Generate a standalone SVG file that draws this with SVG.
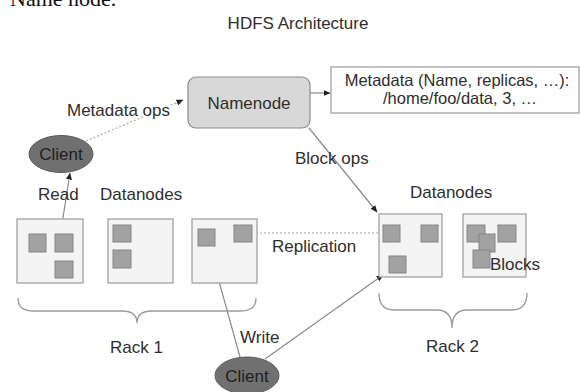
<svg xmlns="http://www.w3.org/2000/svg" width="580" height="392" viewBox="0 0 580 392">
<style>
.t{font-family:"Liberation Sans",Arial,sans-serif;font-size:17px;fill:#2e2e2e}
.dn{fill:#f4f4f4;stroke:#9a9a9a;stroke-width:1.2}
.blk{fill:#a2a2a2;stroke:#858585;stroke-width:1}
.ln{fill:none;stroke:#8a8a8a;stroke-width:1.2}
.dot{fill:none;stroke:#aaaaaa;stroke-width:1.2;stroke-dasharray:2 2}
.brace{fill:none;stroke:#9a9a9a;stroke-width:1.3}
.cl{fill:#707070;stroke:#5a5a5a;stroke-width:1}
</style>
<defs>
<marker id="ah" markerWidth="7" markerHeight="6" refX="6.5" refY="3" orient="auto" markerUnits="userSpaceOnUse">
<path d="M0,0 L7,3 L0,6 Z" fill="#222"/>
</marker>
</defs>
<rect width="580" height="392" fill="#fff"/>
<text x="10" y="6" style="font-family:'Liberation Serif','Times New Roman',serif;font-size:22px;fill:#111">Name node.</text>
<text class="t" x="298" y="29" text-anchor="middle">HDFS Architecture</text>

<g id="connectors">
<line class="dot" x1="86" y1="141" x2="183" y2="100" marker-end="url(#ah)"/>
<line class="ln" x1="310" y1="93" x2="330" y2="93" marker-end="url(#ah)"/>
<line class="ln" x1="309" y1="128" x2="377" y2="212" marker-end="url(#ah)"/>
<line class="ln" x1="62" y1="224" x2="70" y2="173" marker-end="url(#ah)"/>
<line class="ln" x1="240" y1="357" x2="210" y2="249" marker-end="url(#ah)"/>
<line class="ln" x1="265" y1="359" x2="383" y2="275" marker-end="url(#ah)"/>
<line class="dot" x1="252" y1="233" x2="383" y2="233"/>
</g>

<text class="t" x="67" y="116" stroke="#fff" stroke-width="4" paint-order="stroke">Metadata ops</text>
<text class="t" x="295" y="164">Block ops</text>
<text class="t" x="38" y="200">Read</text>
<text class="t" x="100" y="200">Datanodes</text>
<text class="t" x="410" y="198">Datanodes</text>
<text class="t" x="272" y="252">Replication</text>
<text class="t" x="240" y="343">Write</text>
<text class="t" x="110" y="353">Rack 1</text>
<text class="t" x="426" y="352">Rack 2</text>

<g id="namenode">
<rect x="188" y="77" width="122" height="51" rx="8" fill="#d8d8d8" stroke="#8a8a8a" stroke-width="1.2"/>
<text class="t" x="249" y="109" text-anchor="middle">Namenode</text>
</g>

<g id="metadata">
<rect x="331" y="67" width="248" height="46" fill="#fff" stroke="#9a9a9a" stroke-width="1.2"/>
<text class="t" x="457" y="86" text-anchor="middle" style="font-size:16.5px">Metadata (Name, replicas, …):</text>
<text class="t" x="460" y="104" text-anchor="middle" style="font-size:16.5px">/home/foo/data, 3, …</text>
</g>

<g id="client-top">
<ellipse class="cl" cx="61" cy="154" rx="32" ry="18.5"/>
<text class="t" x="61" y="160" text-anchor="middle" style="fill:#1e1e1e">Client</text>
</g>

<g id="client-bottom">
<ellipse class="cl" cx="247" cy="375.5" rx="32" ry="18.5"/>
<text class="t" x="247" y="382" text-anchor="middle" style="fill:#1e1e1e">Client</text>
</g>

<g id="rack1-dn1">
<rect class="dn" x="17" y="219" width="66" height="64"/>
<rect class="blk" x="29" y="234" width="17" height="18"/>
<rect class="blk" x="55" y="234" width="18" height="18"/>
<rect class="blk" x="55" y="261" width="18" height="17"/>
</g>
<g id="rack1-dn2">
<rect class="dn" x="108" y="219" width="65" height="64"/>
<rect class="blk" x="113" y="225" width="18" height="17"/>
<rect class="blk" x="113" y="250" width="18" height="18"/>
</g>
<g id="rack1-dn3">
<rect class="dn" x="192" y="219" width="65" height="64"/>
<rect class="blk" x="198" y="229" width="17" height="17"/>
<rect class="blk" x="234" y="225" width="18" height="17"/>
</g>

<g id="rack2-dn1">
<rect class="dn" x="379" y="214" width="63" height="63"/>
<rect class="blk" x="383" y="225" width="17" height="17"/>
<rect class="blk" x="421" y="225" width="17" height="17"/>
<rect class="blk" x="389" y="256" width="17" height="17"/>
</g>
<g id="rack2-dn2">
<rect class="dn" x="463" y="214" width="63" height="63"/>
<rect class="blk" x="467" y="225" width="18" height="17"/>
<rect class="blk" x="498" y="225" width="18" height="17"/>
<rect class="blk" x="479" y="234" width="16" height="18"/>
<rect class="blk" x="473" y="250" width="17" height="18"/>
<text class="t" x="490" y="270">Blocks</text>
</g>

<g id="rack1-brace">
<path class="brace" d="M18,298 Q18,311 33,311 L122,311 Q137,311 137,323 Q137,311 152,311 L241,311 Q256,311 256,298"/>
</g>
<g id="rack2-brace">
<path class="brace" d="M379,293 Q379,310 394,310 L437,310 Q452,310 452,328 Q452,310 467,310 L512,310 Q527,310 527,293"/>
</g>
</svg>
